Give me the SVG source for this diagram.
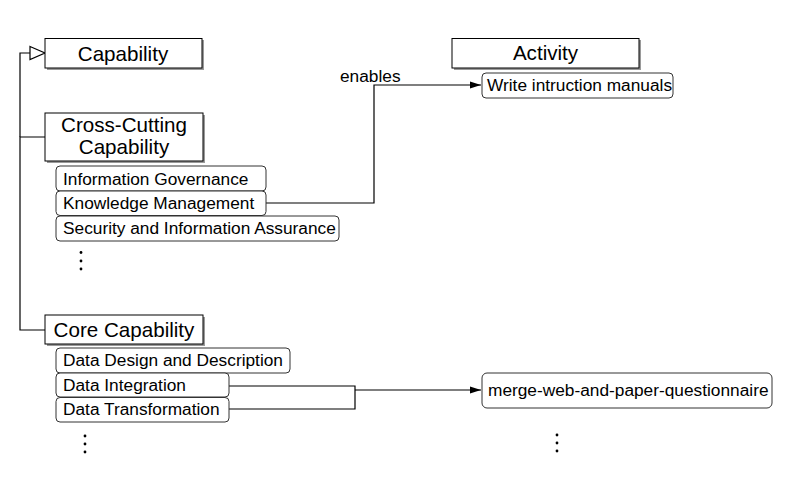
<svg xmlns="http://www.w3.org/2000/svg" width="788" height="479" viewBox="0 0 788 479">
<style>
.t{font-family:"Liberation Sans",Arial,sans-serif;fill:#000}
.big{font-size:20.6px;text-anchor:middle}
.sm{font-size:17.3px}
.box{fill:#fff;stroke:#000;stroke-width:1}
.sh{fill:#9a9a9a}
.item{fill:#fff;stroke:#333;stroke-width:1}
.ln{fill:none;stroke:#000;stroke-width:1.2}
.dot{fill:#000}
</style>
<defs>
<marker id="arr" markerWidth="12" markerHeight="8" refX="11" refY="4" orient="auto" markerUnits="userSpaceOnUse">
<path d="M0,0.5 L11,4 L0,7.5 Z" fill="#000"/>
</marker>
</defs>
<g id="connectors">
<path class="ln" d="M45,137 H20 V330 H45"/>
<path class="ln" d="M20,137 V53 H30"/>
<path d="M30,46.5 L45,53 L30,59.5 Z" fill="#fff" stroke="#000" stroke-width="1.2"/>
<path class="ln" d="M266,203 H374 V85 H481" marker-end="url(#arr)"/>
<text class="t sm" x="340" y="82">enables</text>
<path class="ln" d="M229,386 H355 V409 H229"/>
<path class="ln" d="M355,390 H481" marker-end="url(#arr)"/>
</g>
<g id="capability">
<rect class="sh" x="47" y="40" width="157" height="30"/>
<rect class="box" x="45" y="38.5" width="157" height="29.5"/>
<text class="t big" x="123" y="60.5">Capability</text>
</g>
<g id="cross-cutting">
<rect class="sh" x="47" y="115" width="158" height="48"/>
<rect class="box" x="45" y="113" width="158" height="48"/>
<text class="t big" x="124" y="132">Cross-Cutting</text>
<text class="t big" x="124" y="154">Capability</text>
</g>
<g id="information-governance">
<rect class="item" x="56" y="166" width="210" height="25" rx="4"/>
<text class="t sm" x="63" y="184.5">Information Governance</text>
</g>
<g id="knowledge-management">
<rect class="item" x="56" y="191" width="210" height="24.5" rx="4"/>
<text class="t sm" x="63" y="209">Knowledge Management</text>
</g>
<g id="security">
<rect class="item" x="56" y="216" width="283" height="25" rx="4"/>
<text class="t sm" x="63" y="234">Security and Information Assurance</text>
</g>
<g id="cc-more">
<circle class="dot" cx="81" cy="252.5" r="1.4"/>
<circle class="dot" cx="81" cy="261" r="1.4"/>
<circle class="dot" cx="81" cy="269" r="1.4"/>
</g>
<g id="core">
<rect class="sh" x="47" y="317" width="158" height="29"/>
<rect class="box" x="45" y="315" width="158" height="29"/>
<text class="t big" x="124" y="337">Core Capability</text>
</g>
<g id="data-design">
<rect class="item" x="56" y="348" width="234" height="25" rx="4"/>
<text class="t sm" x="63" y="366">Data Design and Description</text>
</g>
<g id="data-integration">
<rect class="item" x="56" y="373" width="173" height="24" rx="4"/>
<text class="t sm" x="63" y="391">Data Integration</text>
</g>
<g id="data-transformation">
<rect class="item" x="56" y="397.5" width="173" height="24.5" rx="4"/>
<text class="t sm" x="63" y="415">Data Transformation</text>
</g>
<g id="core-more">
<circle class="dot" cx="85" cy="436" r="1.4"/>
<circle class="dot" cx="85" cy="444" r="1.4"/>
<circle class="dot" cx="85" cy="452" r="1.4"/>
</g>
<g id="activity">
<rect class="sh" x="454" y="40" width="187" height="30"/>
<rect class="box" x="452" y="38.5" width="187" height="29.5"/>
<text class="t big" x="545.5" y="60">Activity</text>
</g>
<g id="write-manuals">
<rect class="item" x="482" y="73" width="191" height="25" rx="4"/>
<text class="t sm" x="487" y="91">Write intruction manuals</text>
</g>
<g id="merge">
<rect class="item" x="482" y="373" width="290" height="35" rx="5"/>
<text class="t sm" x="488" y="396">merge-web-and-paper-questionnaire</text>
</g>
<g id="activity-more">
<circle class="dot" cx="557" cy="435" r="1.4"/>
<circle class="dot" cx="557" cy="443" r="1.4"/>
<circle class="dot" cx="557" cy="451" r="1.4"/>
</g>
</svg>
